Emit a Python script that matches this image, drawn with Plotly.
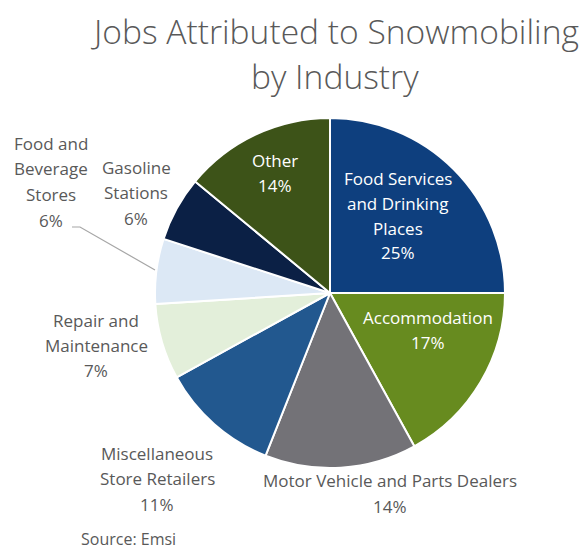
import plotly.graph_objects as go

# Share of snowmobiling-related jobs by industry (clockwise from 12 o'clock)
industries = [
    "Food Services<br>and Drinking<br>Places",
    "Accommodation",
    "Motor Vehicle and Parts Dealers",
    "Miscellaneous<br>Store Retailers",
    "Repair and<br>Maintenance",
    "Food and<br>Beverage<br>Stores",
    "Gasoline<br>Stations",
    "Other",
]
shares = [25, 17, 14, 11, 7, 6, 6, 14]

slice_colors = ["#0E3F7E", "#678B1F", "#737277", "#22588F",
                "#E3EFDA", "#DCE8F5", "#0B2045", "#3D5318"]

W, H = 582, 550
CX, CY, R = 330, 293, 175  # pie centre and radius in pixels

# label anchor (x, y of first line) in pixels, text colour, line step
label_pos = [
    (398, 178, "white", 25),
    (428, 317, "white", 25),
    (390, 480, "#595959", 26),
    (157, 453, "#595959", 25.5),
    (96, 320, "#595959", 25),
    (51, 143, "#595959", 25.7),
    (136, 167, "#595959", 25.5),
    (275, 160, "white", 26),
]

FONT = "Open Sans"
LABEL_SIZE = 17

fig = go.Figure(go.Pie(
    labels=[l.replace("<br>", " ") for l in industries],
    values=shares,
    sort=False,
    direction="clockwise",
    rotation=0,
    marker=dict(colors=slice_colors, line=dict(color="white", width=2)),
    textinfo="none",
    hoverinfo="label+percent",
    showlegend=False,
    domain=dict(x=[(CX - R) / W, (CX + R) / W],
                y=[(H - CY - R) / H, (H - CY + R) / H]),
))

annotations = []
for name, val, (px, py, col, step) in zip(industries, shares, label_pos):
    lines = name.split("<br>") + [f"{val}%"]
    for i, line in enumerate(lines):
        annotations.append(dict(
            x=px / W, y=1 - (py + i * step) / H, xref="paper", yref="paper",
            text=line, showarrow=False, xanchor="center", yanchor="middle",
            font=dict(family=FONT, size=LABEL_SIZE, color=col),
        ))

# title lines
for txt, ty in [("Jobs Attributed to Snowmobiling", 31), ("by Industry", 76)]:
    annotations.append(dict(
        x=334.5 / W, y=1 - ty / H, xref="paper", yref="paper", text=txt,
        showarrow=False, xanchor="center", yanchor="middle",
        font=dict(family=FONT, size=33.6, color="#595959", weight=300),
    ))

annotations.append(dict(
    x=80 / W, y=1 - 539 / H, xref="paper", yref="paper", text="Source: Emsi",
    showarrow=False, xanchor="left", yanchor="middle", borderpad=0,
    font=dict(family=FONT, size=16, color="#595959"),
))

# leader line for the Food and Beverage Stores label
shapes = [dict(
    type="path", xref="paper", yref="paper",
    path=(f"M {72 / W} {1 - 227 / H} L {80 / W} {1 - 227 / H} "
          f"L {155 / W} {1 - 270 / H}"),
    line=dict(color="#A6A6A6", width=1.2),
)]

fig.update_layout(
    width=W, height=H,
    margin=dict(l=0, r=0, t=0, b=0),
    paper_bgcolor="white",
    plot_bgcolor="white",
    annotations=annotations,
    shapes=shapes,
)

fig.write_html("out.html")
